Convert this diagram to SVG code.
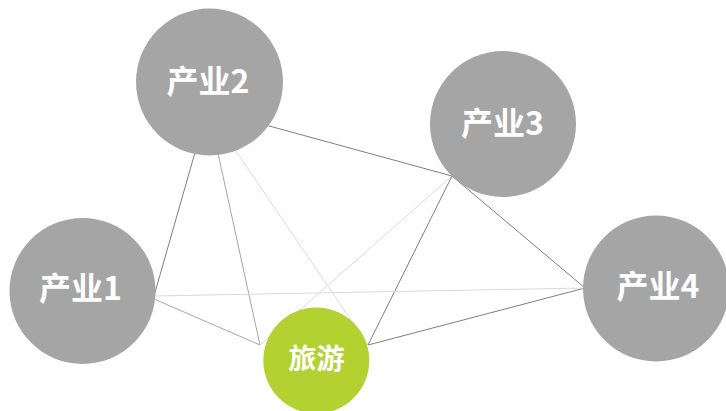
<svg xmlns="http://www.w3.org/2000/svg" width="726" height="411" viewBox="0 0 726 411">
<style>
.dark{stroke:#7f7f7f;stroke-width:1;fill:none}
.mid{stroke:#a6a6a6;stroke-width:1;fill:none}
.light{stroke:#d9d9d9;stroke-width:1;fill:none}
.ind{fill:#a5a5a5}
.tour{fill:#b3d232}
.lbl{fill:#ffffff;font-family:"Noto Sans CJK SC","Liberation Sans",sans-serif;font-weight:bold;text-anchor:middle;dominant-baseline:central}
</style>
<rect width="726" height="411" fill="#ffffff"/>
<g id="connectors">
<line class="dark" x1="200" y1="135" x2="154" y2="296"/>
<line class="mid" x1="214" y1="135" x2="260" y2="345"/>
<line class="light" x1="225" y1="135" x2="368" y2="345"/>
<line class="dark" x1="240" y1="118" x2="452" y2="176"/>
<line class="light" x1="452" y1="176" x2="260" y2="345"/>
<line class="dark" x1="452" y1="176" x2="368" y2="345"/>
<line class="dark" x1="452" y1="176" x2="585" y2="288"/>
<line class="dark" x1="368" y1="345" x2="585" y2="288"/>
<line class="mid" x1="154" y1="299" x2="260" y2="345"/>
<line class="light" x1="154" y1="296" x2="585" y2="288"/>
</g>
<g id="node-ind2">
<circle class="ind" cx="209.5" cy="82" r="73.5"/>
<text class="lbl" x="208" y="79" font-size="32">产业2</text>
</g>
<g id="node-ind3">
<circle class="ind" cx="503" cy="124" r="73"/>
<text class="lbl" x="502.5" y="121" font-size="32">产业3</text>
</g>
<g id="node-ind1">
<circle class="ind" cx="82.5" cy="291" r="73"/>
<text class="lbl" x="80.5" y="286" font-size="32">产业1</text>
</g>
<g id="node-ind4">
<circle class="ind" cx="656" cy="288.5" r="73"/>
<text class="lbl" x="658" y="284" font-size="32">产业4</text>
</g>
<g id="node-tourism">
<circle class="tour" cx="316.3" cy="360.5" r="53"/>
<text class="lbl" x="316.5" y="356.5" font-size="28">旅游</text>
</g>
</svg>
